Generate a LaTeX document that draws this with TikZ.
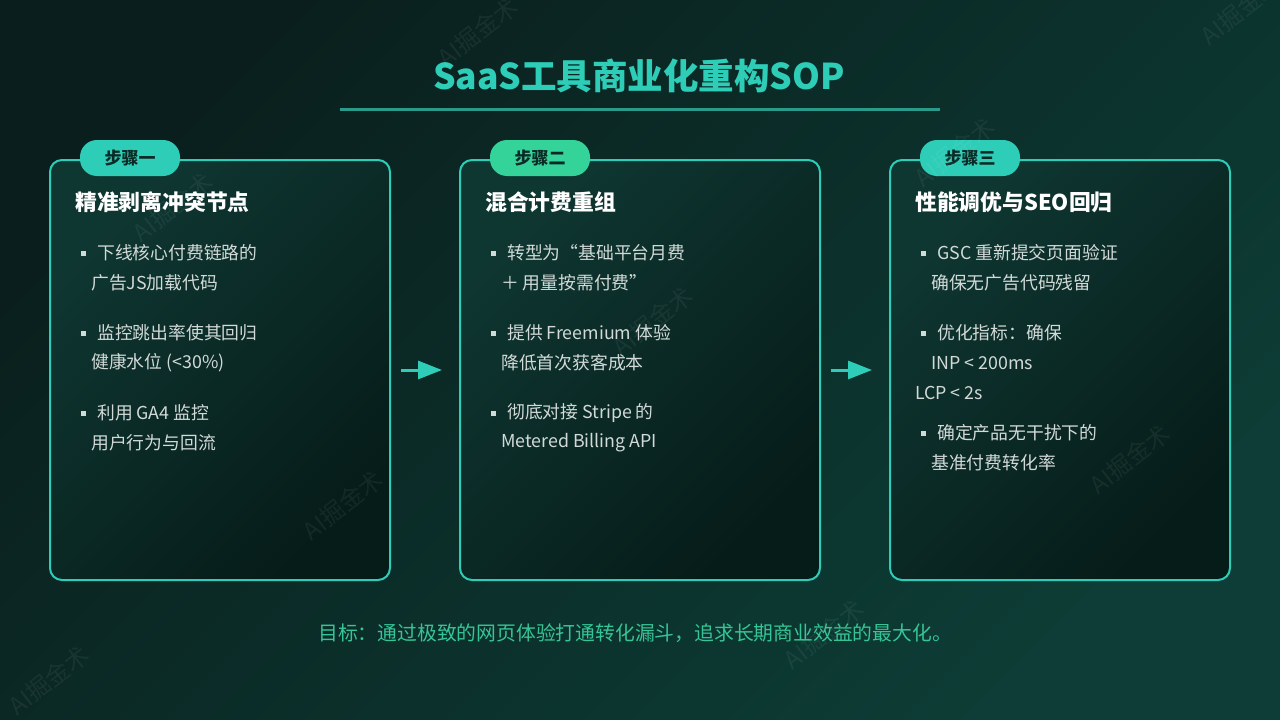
\documentclass[tikz,border=0pt]{standalone}
\usepackage{fontspec}
\setmainfont{Noto Sans CJK SC}
\usetikzlibrary{arrows.meta,calc}
\definecolor{bgdark}{HTML}{0A1F1D}
\definecolor{bglight}{HTML}{0D3D36}
\definecolor{tealA}{HTML}{2DCDB8}
\definecolor{greenB}{HTML}{34D399}
\definecolor{lineT}{HTML}{2A9A8A}
\definecolor{boxTop}{HTML}{0F3732}
\definecolor{boxBot}{HTML}{061C19}
\definecolor{bodyTxt}{HTML}{D2DAD8}
\definecolor{badgeTxt}{HTML}{0B2A25}
\definecolor{footTxt}{HTML}{36C596}
\tikzset{
  panel/.style={draw=tealA, line width=2pt, rounded corners=12pt,
    top color=boxTop, bottom color=boxBot, shading angle=45,
    minimum height=420pt, inner sep=0pt},
  badge/.style={rounded corners=17pt, minimum width=100pt, minimum height=36pt,
    inner sep=0pt, text=badgeTxt, font=\fontsize{17}{20}\selectfont\bfseries},
  ptitle/.style={anchor=west, inner sep=0pt, text=white,
    font=\fontsize{21.8}{24}\selectfont\bfseries},
  btxt/.style={anchor=west, inner sep=0pt, text=bodyTxt,
    font=\fontsize{17.8}{20}\selectfont},
  bsq/.style={fill=bodyTxt, minimum size=5pt, inner sep=0pt},
  flow/.style={draw=tealA, line width=3pt, -{Triangle[length=24pt,width=18pt]}},
  wm/.style={text=white, opacity=0.06, rotate=38, font=\fontsize{24}{26}\selectfont}
}
\begin{document}
\begin{tikzpicture}[x=1pt,y=-1pt]
\useasboundingbox (0,0) rectangle (1280,720);
\shade[top color=bgdark, bottom color=bglight, shading angle=45] (0,0) rectangle (1280,720);

% title
\node[text=tealA, font=\fontsize{35.5}{40}\selectfont\bfseries, inner sep=0pt] (title) at (639,76) {SaaS工具商业化重构SOP};
\coordinate (ulL) at (340,109);
\coordinate (ulR) at (940,109);
\draw[lineT, line width=3pt] (ulL) -- (ulR);

% panels
\node[panel, minimum width=340pt] (b1) at (220,370) {};
\node[panel, minimum width=360pt] (b2) at (640,370) {};
\node[panel, minimum width=340pt] (b3) at (1060,370) {};

% badges
\node[badge, fill=tealA] (s1) at (130,158) {步骤一};
\node[badge, fill=greenB] (s2) at (540,158) {步骤二};
\node[badge, fill=tealA] (s3) at (970,158) {步骤三};

% panel titles
\node[ptitle] (t1) at (75,202) {精准剥离冲突节点};
\node[ptitle] (t2) at (485,202) {混合计费重组};
\node[ptitle] (t3) at (915,202) {性能调优与SEO回归};

% panel 1
\node[bsq] (q11) at (83,253) {};
\node[btxt] (l11) at (97,253) {下线核心付费链路的};
\node[btxt] (l12) at (91,283) {广告JS加载代码};
\node[bsq] (q12) at (83,333) {};
\node[btxt] (l13) at (97,333) {监控跳出率使其回归};
\node[btxt] (l14) at (91,363) {健康水位 (<30\%)};
\node[bsq] (q13) at (83,413) {};
\node[btxt] (l15) at (97,413) {利用 GA4 监控};
\node[btxt] (l16) at (91,443) {用户行为与回流};

% panel 2
\node[bsq] (q21) at (493,253) {};
\node[btxt] (l21) at (507,253) {转型为“基础平台月费};
\node[btxt] (l22) at (501,283) {＋ 用量按需付费”};
\node[bsq] (q22) at (493,333) {};
\node[btxt] (l23) at (507,333) {提供 Freemium 体验};
\node[btxt] (l24) at (501,363) {降低首次获客成本};
\node[bsq] (q23) at (493,413) {};
\node[btxt] (l25) at (507,413) {彻底对接 Stripe 的};
\node[btxt] (l26) at (501,443) {Metered Billing API};

% panel 3
\node[bsq] (q31) at (923,253) {};
\node[btxt] (l31) at (937,253) {GSC 重新提交页面验证};
\node[btxt] (l32) at (931,283) {确保无广告代码残留};
\node[bsq] (q32) at (923,333) {};
\node[btxt] (l33) at (937,333) {优化指标：确保};
\node[btxt] (l34) at (931,363) {INP < 200ms};
\node[btxt] (l35) at (915,393) {LCP < 2s};
\node[bsq] (q33) at (923,433) {};
\node[btxt] (l36) at (937,433) {确定产品无干扰下的};
\node[btxt] (l37) at (931,463) {基准付费转化率};

% arrows
\draw[flow, shorten <=10pt, shorten >=17pt] (b1) -- (b2);
\draw[flow, shorten <=10pt, shorten >=17pt] (b2) -- (b3);

% footer
\node[text=footTxt, font=\fontsize{19.8}{22}\selectfont, inner sep=0pt] (foot) at (635,633) {目标：通过极致的网页体验打通转化漏斗，追求长期商业效益的最大化。};

% watermarks (on top, faint)
\foreach \wx/\wy [count=\i] in {478/32, 173/207, 343/505, 653/321, 955/152, 1130/459, 824/634, 49/680, 1241/10}
  \node[wm] (wm\i) at (\wx,\wy) {AI掘金术};
\end{tikzpicture}
\end{document}
